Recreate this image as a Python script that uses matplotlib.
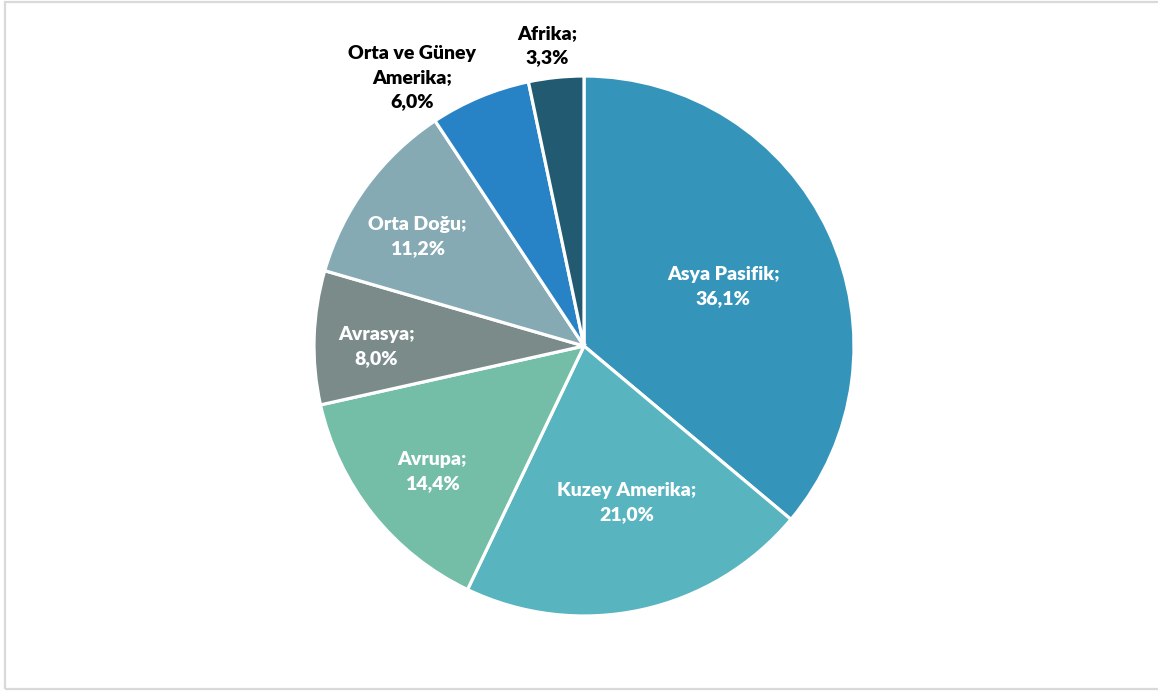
import numpy as np
import matplotlib.pyplot as plt
from matplotlib.patches import Rectangle

regions = ["Asya Pasifik", "Kuzey Amerika", "Avrupa", "Avrasya",
           "Orta Doğu", "Orta ve Güney\nAmerika", "Afrika"]
shares = [36.1, 21.0, 14.4, 8.0, 11.2, 6.0, 3.3]
colors = ["#3594BA", "#58B4BF", "#74BDA6", "#7A8B8A",
          "#85AAB3", "#2883C6", "#215A71"]

# label radius (fraction of pie radius) and angular nudge in degrees
label_r = [0.56, 0.60, 0.73, 0.77, 0.74, 1.18, 1.12]
label_shift = [-2, 3, 1, 2, 3, 10, 1]
label_color = ["white", "white", "white", "white", "white", "black", "black"]

W, H = 1158, 693
fig = plt.figure(figsize=(W / 100, H / 100), dpi=100)
fig.patch.set_facecolor("white")

# thin grey frame (the right side runs off the canvas)
fig.patches.append(Rectangle((5 / W, 1 - 689 / H), 1.2, 687 / H,
                             transform=fig.transFigure, fill=False,
                             edgecolor="#D9D9D9", linewidth=1.6))

cx, cy, r = 584, 346, 270
ax = fig.add_axes([(cx - r) / W, 1 - (cy + r) / H, 2 * r / W, 2 * r / H])
wedges, _ = ax.pie(shares, colors=colors, startangle=90, counterclock=False,
                   radius=1, wedgeprops=dict(edgecolor="white", linewidth=2.3))
ax.set_xlim(-1, 1)
ax.set_ylim(-1, 1)
ax.set_aspect("auto")
ax.axis("off")

for w, name, val, lr, sh, tc in zip(wedges, regions, shares, label_r,
                                    label_shift, label_color):
    ang = np.deg2rad((w.theta1 + w.theta2) / 2 + sh)
    txt = f"{name};\n{val:.1f}%".replace(".", ",")
    ax.text(lr * np.cos(ang), lr * np.sin(ang), txt, ha="center", va="center",
            color=tc, fontsize=14, fontweight="heavy", family="Lato",
            linespacing=1.5, clip_on=False)

fig.savefig("out.png", dpi=100)
